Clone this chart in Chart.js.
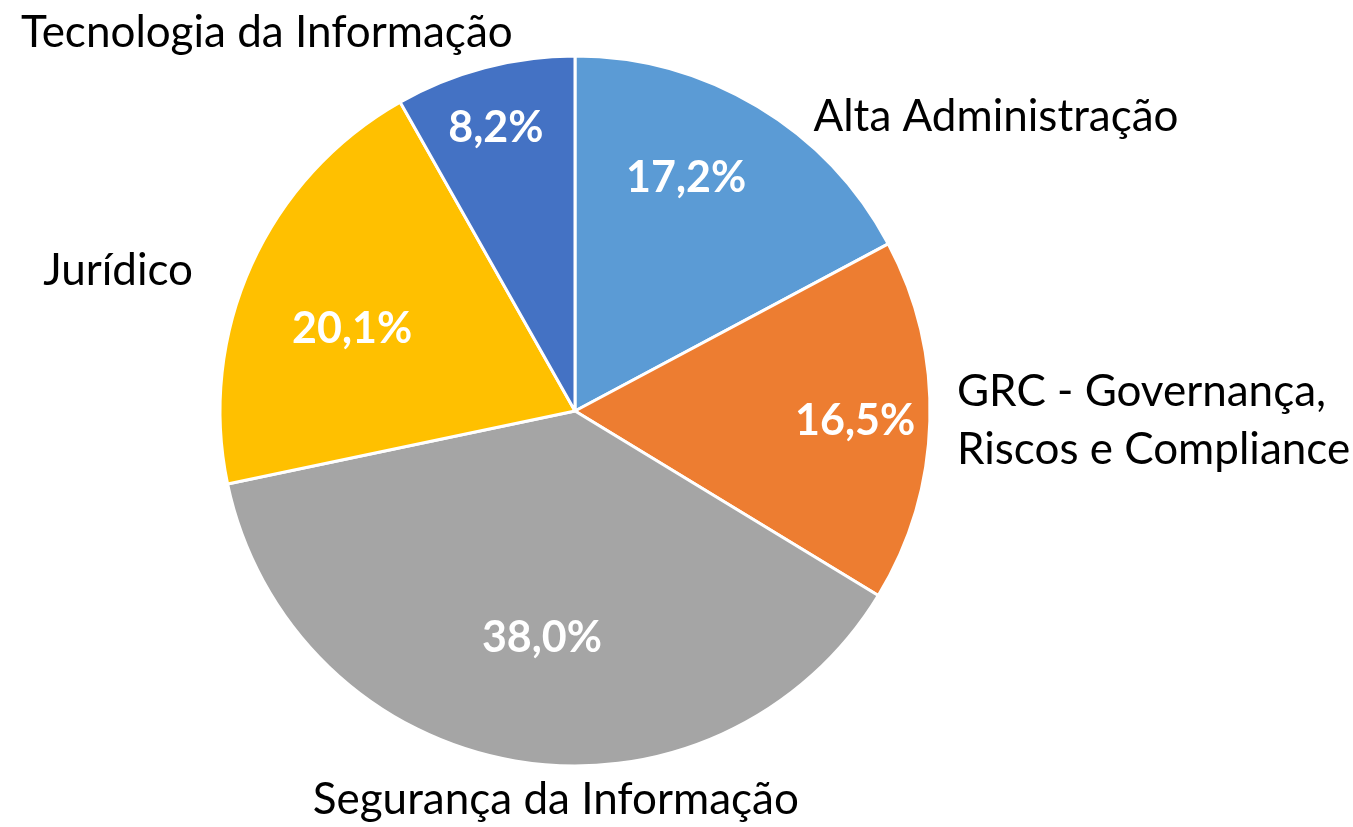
<!DOCTYPE html>
<html lang="pt-BR">
<head>
<meta charset="utf-8">
<title>Distribuição por área</title>
<script src="https://cdn.jsdelivr.net/npm/chart.js@4/dist/chart.umd.min.js"></script>
<style>
  html, body { margin: 0; padding: 0; background: #fff; }
  #grafico { display: block; }
</style>
</head>
<body>
<canvas id="grafico" width="1353" height="827"></canvas>
<script>
// Dados do gráfico
const areas = [
    "Alta Administração",
    ["GRC - Governança,", "Riscos e Compliance"],
    "Segurança da Informação",
    "Jurídico",
    "Tecnologia da Informação"
];
const percentuais = [17.2, 16.5, 38.0, 20.1, 8.2];
const cores = ["#5B9BD5", "#ED7D31", "#A5A5A5", "#FFC000", "#4472C4"];

// Posição dos rótulos em relação ao centro, em unidades de raio
// (nome: linha de base; percentual: centro dos algarismos)
const posNomes = [
    { dx: 1.186, dy: -0.79, align: "center" },
    { dx: 1.076, dy: -0.015, align: "left" },
    { dx: -0.054, dy: 1.135, align: "center" },
    { dx: -1.287, dy: -0.355, align: "center" },
    { dx: -0.868, dy: -1.025, align: "center" }
];
const posPercentuais = [
    { dx: 0.313, dy: -0.659 },
    { dx: 0.789, dy: 0.025 },
    { dx: -0.093, dy: 0.637 },
    { dx: -0.628, dy: -0.234 },
    { dx: -0.223, dy: -0.80 }
];

const fonteNome = "44px Lato, 'Noto Sans', sans-serif";
const fontePct = "bold 43px Lato, 'Noto Sans', sans-serif";

const rotulos = {
    id: "rotulos",
    afterDatasetsDraw(chart) {
        const ctx = chart.ctx;
        const arcos = chart.getDatasetMeta(0).data;
        ctx.save();
        arcos.forEach(function (arco, i) {
            const r = arco.outerRadius;
            const cx = arco.x, cy = arco.y;

            // percentual dentro da fatia
            const p = posPercentuais[i];
            ctx.font = fontePct;
            ctx.fillStyle = "#ffffff";
            ctx.textAlign = "center";
            ctx.textBaseline = "alphabetic";
            const txt = percentuais[i].toFixed(1).replace(".", ",") + "%";
            ctx.fillText(txt, cx + p.dx * r, cy + p.dy * r + 15);

            // nome da área fora da pizza
            const n = posNomes[i];
            ctx.font = fonteNome;
            ctx.fillStyle = "#000000";
            ctx.textAlign = n.align;
            const linhas = Array.isArray(areas[i]) ? areas[i] : [areas[i]];
            linhas.forEach(function (linha, k) {
                ctx.fillText(linha, cx + n.dx * r, cy + n.dy * r + k * 58);
            });
        });
        ctx.restore();
    }
};

const ctx = document.getElementById("grafico").getContext("2d");
new Chart(ctx, {
    type: "pie",
    data: {
        labels: areas,
        datasets: [{
            data: percentuais,
            backgroundColor: cores,
            borderColor: "#ffffff",
            borderWidth: 3
        }]
    },
    options: {
        responsive: false,
        animation: false,
        radius: 355,
        layout: {
            padding: { left: 220, right: 423, top: 56, bottom: 61 }
        },
        plugins: {
            legend: { display: false },
            tooltip: { enabled: false }
        }
    },
    plugins: [rotulos]
});
</script>
</body>
</html>
